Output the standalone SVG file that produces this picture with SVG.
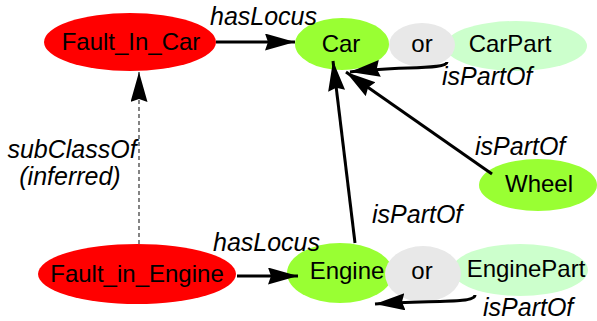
<svg xmlns="http://www.w3.org/2000/svg" width="597" height="321" viewBox="0 0 597 321">
<style>
text{font-family:"Liberation Sans",Arial,sans-serif;font-size:24px;fill:#000}
.lbl{font-style:italic;font-size:25px}
.n{text-anchor:middle}
.fault{fill:#ff0000}
.cls{fill:#99ff33}
.part{fill:#ccffcc}
.or{fill:#e8e8e8}
.e{fill:none;stroke:#000;stroke-width:3}
.d{fill:none;stroke:#333;stroke-width:1.2;stroke-dasharray:4,3}
</style>
<defs>
<marker id="ah" markerUnits="userSpaceOnUse" markerWidth="34" markerHeight="20" refX="30" refY="8.5" orient="auto">
<path d="M0,0 L30,8.5 L0,17 L3,8.5 Z" fill="#000"/>
</marker>
</defs>
<g id="Fault_In_Car"><ellipse class="fault" cx="130" cy="42" rx="86" ry="29"/><text class="n" x="131" y="50">Fault_In_Car</text></g>
<g id="Car"><ellipse class="cls" cx="342" cy="44" rx="47" ry="26"/><text class="n" x="341" y="52">Car</text></g>
<g id="CarPart"><ellipse class="part" cx="516" cy="46" rx="71" ry="25"/><text class="n" x="510" y="52">CarPart</text></g>
<g id="or1"><ellipse class="or" cx="422" cy="45" rx="33" ry="22"/><text class="n" x="422" y="52">or</text></g>
<g id="Wheel"><ellipse class="cls" cx="538" cy="185" rx="59" ry="26"/><text class="n" x="539" y="192">Wheel</text></g>
<g id="Fault_in_Engine"><ellipse class="fault" cx="137" cy="274" rx="99" ry="30"/><text class="n" x="137" y="282">Fault_in_Engine</text></g>
<g id="Engine"><ellipse class="cls" cx="340" cy="273" rx="53" ry="30"/><text class="n" x="347" y="279">Engine</text></g>
<g id="EnginePart"><ellipse class="part" cx="520" cy="270" rx="68" ry="26"/><text class="n" x="526" y="277">EnginePart</text></g>
<g id="or2"><ellipse class="or" cx="423" cy="274" rx="38" ry="28"/><text class="n" x="422" y="279">or</text></g>
<g id="connectors">
<line class="e" x1="216" y1="42" x2="295" y2="42" marker-end="url(#ah)"/>
<line class="d" x1="139" y1="244" x2="139" y2="72" marker-end="url(#ah)"/>
<line class="e" x1="237" y1="276" x2="298" y2="276" marker-end="url(#ah)"/>
<line class="e" x1="355" y1="243" x2="333" y2="61" marker-end="url(#ah)"/>
<line class="e" x1="492" y1="174" x2="346" y2="72" marker-end="url(#ah)"/>
<path class="e" d="M447,62 C447,70 400,66 350,72" marker-end="url(#ah)"/>
<path class="e" d="M475,295 C475,304 430,300 375,304" marker-end="url(#ah)"/>
<text class="lbl" x="210" y="25">hasLocus</text>
<text class="lbl n" x="72" y="158">subClassOf</text>
<text class="lbl n" x="70" y="185">(inferred)</text>
<text class="lbl" x="442" y="85">isPartOf</text>
<text class="lbl" x="475" y="155">isPartOf</text>
<text class="lbl" x="372" y="223">isPartOf</text>
<text class="lbl" x="213" y="251">hasLocus</text>
<text class="lbl" x="483" y="316">isPartOf</text>
</g>
</svg>
